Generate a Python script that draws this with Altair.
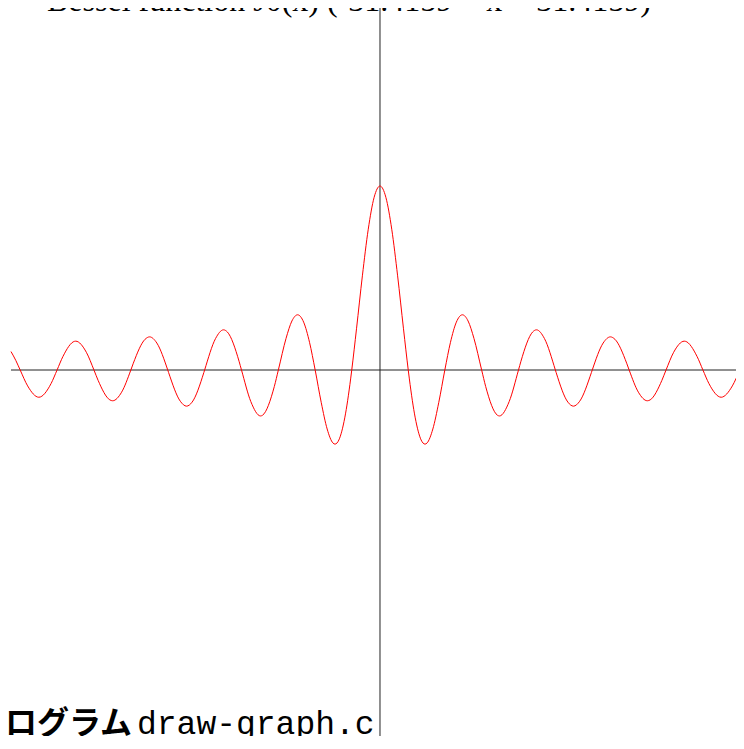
import altair as alt
import pandas as pd

x_vals = [
    -31.4159, -31, -30.6346, -30, -29.0468, -28, -27.4935, -27, -26, -25.9037, -25,
    -24.3525, -24, -23, -22.7601, -22, -21.2116, -21, -20, -19.6159, -19, -18.0711,
    -18, -17, -16.4706, -16, -15, -14.9309, -14, -13.3237, -13, -12, -11.7915, -11,
    -10.1735, -10, -9, -8.6537, -8, -7.5, -7.0156, -6.5, -6, -5.5201, -5, -4.5, -4,
    -3.8317, -3.5, -3, -2.5, -2.4048, -2, -1.5, -1, -0.5,
    0,
    0.5, 1, 1.5, 2, 2.4048, 2.5, 3, 3.5, 3.8317, 4, 4.5, 5, 5.5201, 6, 6.5, 7.0156,
    7.5, 8, 8.6537, 9, 10, 10.1735, 11, 11.7915, 12, 13, 13.3237, 14, 14.9309, 15,
    16, 16.4706, 17, 18, 18.0711, 19, 19.6159, 20, 21, 21.2116, 22, 22.7601, 23, 24,
    24.3525, 25, 25.9037, 26, 27, 27.4935, 28, 29.0468, 30, 30.6346, 31, 31.4159,
]
j0_vals = [
    0.1003, 0.0512, 0.0, -0.0864, -0.1480, -0.0732, 0.0, 0.0727, 0.1560, 0.1567, 0.0963,
    0.0, -0.0562, -0.1624, -0.1672, -0.1207, 0.0, 0.0370, 0.1670, 0.1801, 0.1466, 0.0,
    -0.0134, -0.1699, -0.1965, -0.1749, -0.0142, 0.0, 0.1711, 0.2184, 0.2069, 0.0477, 0.0, -0.1712,
    -0.2497, -0.2459, -0.0903, 0.0, 0.1717, 0.2663, 0.3001, 0.2601, 0.1506, 0.0, -0.1776, -0.3205, -0.3971,
    -0.4028, -0.3801, -0.2601, -0.0484, 0.0, 0.2239, 0.5118, 0.7652, 0.9385,
    1.0,
    0.9385, 0.7652, 0.5118, 0.2239, 0.0, -0.0484, -0.2601, -0.3801, -0.4028, -0.3971, -0.3205, -0.1776, 0.0, 0.1506, 0.2601, 0.3001,
    0.2663, 0.1717, 0.0, -0.0903, -0.2459, -0.2497, -0.1712, 0.0, 0.0477, 0.2069, 0.2184, 0.1711, 0.0, -0.0142,
    -0.1749, -0.1965, -0.1699, -0.0134, 0.0, 0.1466, 0.1801, 0.1670, 0.0370, 0.0, -0.1207, -0.1672, -0.1624, -0.0562,
    0.0, 0.0963, 0.1567, 0.1560, 0.0727, 0.0, -0.0732, -0.1480, -0.0864, 0.0, 0.0512, 0.1003,
]

title_text = ["Bessel function J0(x)  (-31.4159 < x < 31.4159)"]
prog_label = ["プログラム"]
file_label = ["draw-graph.c"]

axis_x_range = [-31.4159, 31.4159]
axis_y_range = [-2.01, 1.9674]

curve_df = pd.DataFrame({"x": x_vals, "y": j0_vals})

W, H = 728, 728
xs = alt.Scale(domain=[-31.671, 30.309], nice=False, zero=False)
ys = alt.Scale(domain=[-1.9891, 1.9674], nice=False, zero=False)

hax = alt.Chart(pd.DataFrame({"x": [axis_x_range[0]], "x2": [axis_x_range[1]], "y": [0.0]})).mark_rule(
    color="#222222", strokeWidth=1
).encode(
    x=alt.X("x:Q", scale=xs, axis=None),
    x2="x2:Q",
    y=alt.Y("y:Q", scale=ys, axis=None),
)

vax = alt.Chart(pd.DataFrame({"x": [0.0], "y": [axis_y_range[0]], "y2": [axis_y_range[1]]})).mark_rule(
    color="#222222", strokeWidth=1
).encode(
    x=alt.X("x:Q", scale=xs, axis=None),
    y=alt.Y("y:Q", scale=ys, axis=None),
    y2="y2:Q",
)

curve = alt.Chart(curve_df).mark_line(
    color="#ff0000", strokeWidth=1, interpolate="monotone"
).encode(
    x=alt.X("x:Q", scale=xs, axis=None),
    y=alt.Y("y:Q", scale=ys, axis=None),
)

title = alt.Chart(pd.DataFrame({"t": title_text})).mark_text(
    font="Liberation Serif", fontSize=32, align="left", baseline="alphabetic", color="black"
).encode(x=alt.value(39), y=alt.value(3), text="t:N")

prog = alt.Chart(pd.DataFrame({"t": prog_label})).mark_text(
    font="Noto Sans CJK JP", fontWeight="bold", fontSize=32, align="right",
    baseline="alphabetic", color="black"
).encode(x=alt.value(124), y=alt.value(726), text="t:N")

fname = alt.Chart(pd.DataFrame({"t": file_label})).mark_text(
    font="Liberation Mono", fontSize=33, align="left", baseline="alphabetic", color="black"
).encode(x=alt.value(129), y=alt.value(726), text="t:N")

chart = alt.layer(hax, vax, curve, title, prog, fname).properties(
    width=W, height=H,
    autosize=alt.AutoSizeParams(type="none"),
    padding=0,
).configure_view(stroke=None)

chart.save("out.html", embed_options={"renderer": "svg", "actions": False})
